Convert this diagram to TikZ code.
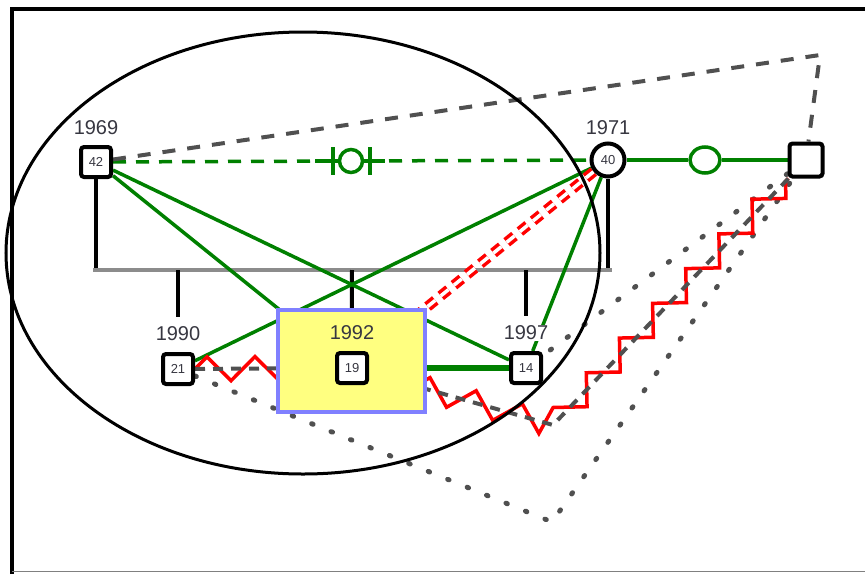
\documentclass[tikz,border=0pt]{standalone}
\usepackage{fontspec}
\setmainfont{Liberation Sans}
\usetikzlibrary{positioning,backgrounds,shapes.geometric,decorations.pathmorphing}

\definecolor{bondgreen}{RGB}{0,128,0}
\definecolor{inkgray}{RGB}{80,80,80}
\definecolor{bargray}{RGB}{140,140,140}
\definecolor{selyellow}{RGB}{255,255,128}
\definecolor{selblue}{RGB}{128,128,255}
\definecolor{yeartext}{RGB}{55,55,65}

\tikzset{
  person/.style={draw, line width=4pt, fill=white, minimum size=30pt, inner sep=0pt,
    font=\fontsize{13}{13}\selectfont, text=yeartext},
  male/.style={person, rectangle, rounded corners=3pt},
  female/.style={person, circle, minimum size=33pt},
  year/.style={fill=white, inner sep=1pt, font=\fontsize{20}{20}\selectfont, text=yeartext},
  kin/.style={line width=4pt},
  bond/.style={bondgreen, line width=3.5pt},
  hostile/.style={red, line width=3.5pt, decorate,
    decoration={zigzag, segment length=48pt, amplitude=12pt}},
  distant/.style={inkgray, line width=4pt, dash pattern=on 10pt off 8pt},
  faraway/.style={inkgray, line width=5pt, line cap=round, dash pattern=on 1.5pt off 19.5pt},
}

\begin{document}
\begin{tikzpicture}[x=1pt,y=-1pt]
	\useasboundingbox (0,0) rectangle (865,574);
	% frame
	\draw[line width=4pt] (12,574) -- (12,9) -- (865,9);
	\draw[gray, line width=1pt] (12,571) -- (865,571);

	% parents
	\node[male] (p42) at (96,162) {42};
	\node[year, above=9pt of p42] (y1969) {1969};
	\node[female] (p40) at (608,160) {40};
	\node[year, above=6pt of p40] (y1971) {1971};
	\node[male, minimum size=33pt] (pU) at (806,160) {};

	% children
	\node[male] (p21) at (178,369) {21};
	\node[year, above=10pt of p21] (y1990) {1990};
	\node[draw=selblue, fill=selyellow, line width=4pt, minimum width=147pt, minimum height=102pt] (sel) at (351.5,361) {};
	\node[male] (p19) at (352,368) {19};
	\node[year, fill=none, above=10pt of p19] (y1992) {1992};
	\node[male] (p14) at (526,368) {14};
	\node[year, above=10pt of p14] (y1997) {1997};

	% relationship marks
	\node[circle, draw=bondgreen, line width=3.5pt, fill=white, minimum size=23pt, inner sep=0pt] (sep) at (351,161) {};
	\node[ellipse, draw=bondgreen, line width=3.5pt, fill=white, minimum width=30pt, minimum height=26pt, inner sep=0pt] (tie) at (705,160) {};

	\coordinate (famL) at (93,270);
	\coordinate (famR) at (612,270);
	\coordinate (kink1) at (553,425);
	\coordinate (kink2) at (552,522);
	\coordinate (corner) at (820,55);

	\begin{pgfonlayer}{background}
		% family lines
		\draw[kin] (p42) -- (p42 |- famL);
		\draw[kin] (p40) -- (p40 |- famL);
		\draw[kin, bargray] (famL) -- (famR);
		\draw[kin, shorten >=8pt] (p21 |- famL) -- (y1990);
		\draw[kin] (p19 |- famL) -- (sel);
		\draw[kin, shorten >=8pt] (p14 |- famL) -- (y1997);

		% emotional lines
		\draw[bond, dash pattern=on 13pt off 10pt] (p42) -- (p40);
		\draw[bond] ([xshift=-36pt]sep.center) -- ([xshift=34pt]sep.center);
		\draw[bond] ([xshift=-18pt,yshift=14pt]sep.center) -- ([xshift=-18pt,yshift=-14pt]sep.center);
		\draw[bond] ([xshift=19pt,yshift=14pt]sep.center) -- ([xshift=19pt,yshift=-14pt]sep.center);
		\draw[bond] (p40) -- (tie) -- (pU);
		\draw[bond] (p42) -- (p19);
		\draw[bond] (p42) -- (p14);
		\draw[bond] (p40) -- (p21);
		\draw[bond] (p40) -- (p14);
		\draw[bond, line width=5.5pt] (p19) -- (p14);
		\draw[red, line width=3.5pt, double=white, double distance=3.5pt, dash pattern=on 10pt off 7pt] (p40) -- (p19);

		\draw[inkgray, line width=4pt, dash pattern=on 13pt off 12pt] (p42) -- (corner) -- (pU);
		\draw[faraway] (p21) -- (kink2) -- (pU);
		\draw[faraway] (pU) -- (p14);
		\draw[hostile] (p21) -- (p19);
		\draw[distant] (p21) -- (p19);
		\draw[hostile] (p19) -- (kink1) -- (pU);
		\draw[distant] (p19) -- (kink1) -- (pU);
	\end{pgfonlayer}

	% household
	\draw[line width=3pt] (303,253) ellipse [x radius=297, y radius=221];
\end{tikzpicture}
\end{document}
